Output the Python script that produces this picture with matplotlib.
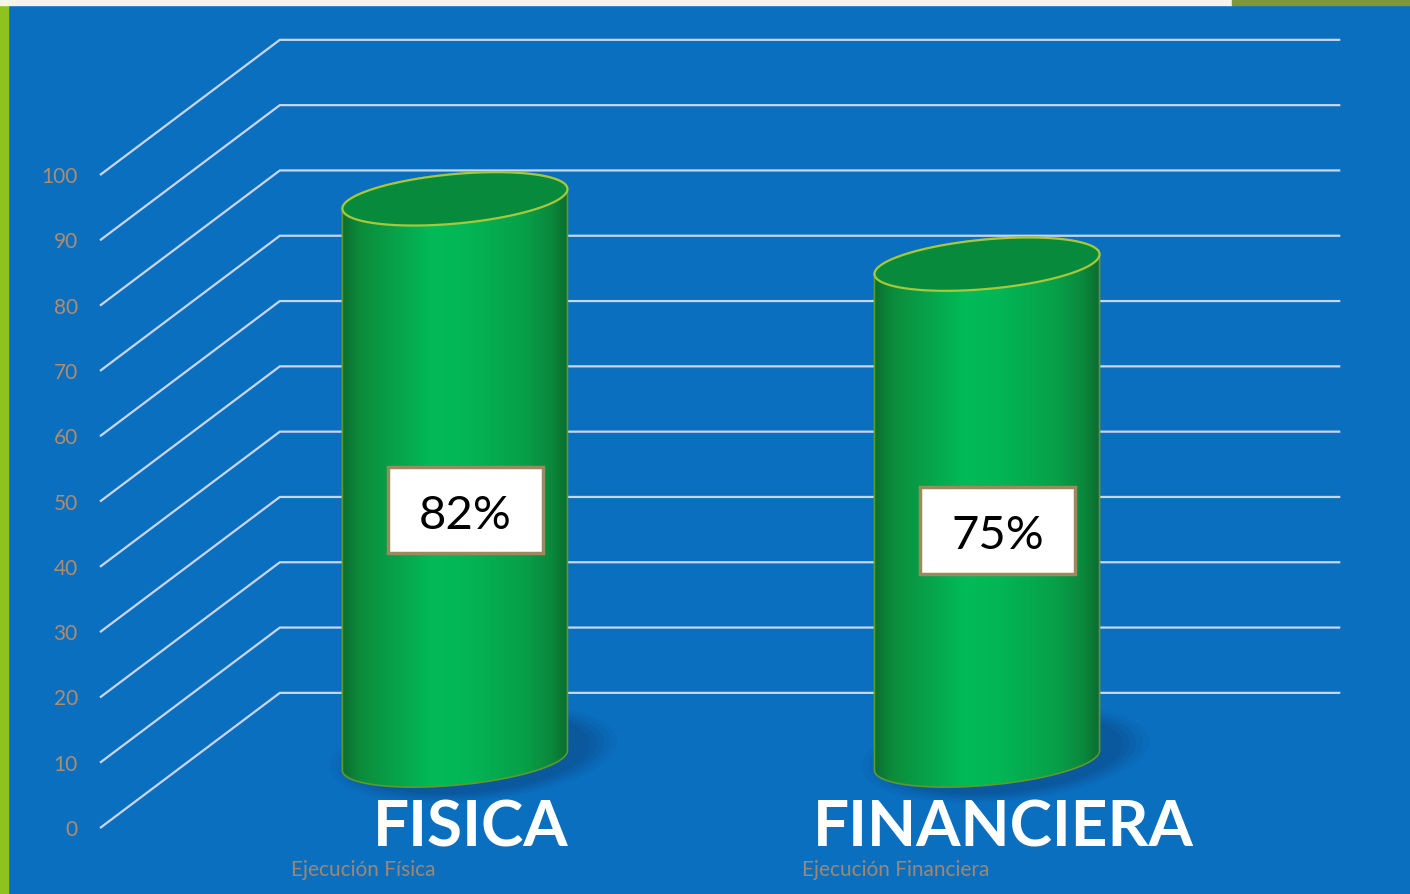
import numpy as np
import matplotlib.pyplot as plt
from matplotlib.patches import Polygon, Rectangle
from matplotlib.colors import LinearSegmentedColormap

plt.rcParams['font.family'] = ['Lato', 'DejaVu Sans']

# data
categories = ["FISICA", "FINANCIERA"]
subtitles = ["Ejecución Física", "Ejecución Financiera"]
heights = [86, 76]            # cylinder heights as drawn
value_labels = ["82%", "75%"]  # text typed in the boxes
ticks = list(range(0, 101, 10))

W, H = 1410, 894
BLUE = '#0B6FC0'
GRID = '#C9D6EA'
TAN = '#AE8C6E'

fig = plt.figure(figsize=(W / 100, H / 100), dpi=100)
fig.patch.set_facecolor(BLUE)
ax = fig.add_axes([100 / W, 0, 1 - 100 / W, 1])
ax.patch.set_visible(False)

# fake 3d: depth offset of the back wall
DX, DY = 0.338, 20.7
wall_end = 1.664
x_lo, x_hi = -0.667, 1.795
y_lo, y_hi = -10.1, 126.8

for v in ticks:
    ax.plot([x_lo, x_lo + DX, wall_end], [v, v + DY, v + DY], color=GRID,
            lw=1.6, zorder=1, clip_on=False, solid_capstyle='butt')

# cylinder shape
A, B, K = 0.2115, 3.8, 1.5

def ring(cx, cy, t, sx=1.0, sy=1.0):
    return cx + A * sx * np.cos(t), cy + B * sy * np.sin(t) + K * sx * np.cos(t)

body_cmap = LinearSegmentedColormap.from_list('body', [
    (0.0, '#0B6E30'), (0.08, '#0C8C3B'), (0.40, '#02BA58'),
    (0.55, '#03B655'), (0.80, '#07A148'), (0.93, '#0B883C'), (1.0, '#0A6C2F')])
grad = np.linspace(0, 1, 256).reshape(1, -1)

base = DY / 2
for i, h in enumerate(heights):
    top = base + h

    # soft shadow under the cylinder
    for s, a in [(1.28, 0.07), (1.22, 0.09), (1.16, 0.11), (1.10, 0.14), (1.04, 0.16)]:
        sx, sy = ring(i + 0.035, base + 1.0, np.linspace(0, 2 * np.pi, 120), s, s * 1.5)
        ax.add_patch(Polygon(np.column_stack([sx, sy]), closed=True,
                             fc='#0A3F78', ec='none', alpha=a, zorder=2))

    bx, by = ring(i, base, np.linspace(np.pi, 2 * np.pi, 120))
    tx, ty = ring(i, top, np.linspace(0, np.pi, 120))
    body = Polygon(np.column_stack([np.r_[bx, tx], np.r_[by, ty]]), closed=True,
                   fc='none', ec='#5E9A2A', lw=1.2, zorder=4)
    ax.add_patch(body)
    im = ax.imshow(grad, cmap=body_cmap, origin='lower', aspect='auto',
                   extent=[i - A, i + A, base - B - K - 1, top + B + K + 1],
                   interpolation='bicubic', zorder=3)
    im.set_clip_path(body)

    cx_, cy_ = ring(i, top, np.linspace(0, 2 * np.pi, 200))
    ax.add_patch(Polygon(np.column_stack([cx_, cy_]), closed=True,
                         fc='#088A3D', ec='#A6C83A', lw=1.6, zorder=5))

    # value box
    ly = 22.0 + 0.31 * h
    ax.add_patch(Rectangle((i + 0.02 - 0.145, ly - 6.6), 0.29, 13.2,
                           fc='white', ec='#9A8A5C', lw=2.5, zorder=6))
    ax.text(i + 0.02, ly - 2.8, value_labels[i], ha='center', va='baseline',
            fontsize=34, color='black', zorder=7)

    ax.text(i + 0.03, -2.8, categories[i], ha='center', va='baseline',
            fontsize=46, fontweight='bold', color='white', zorder=7)
    ax.text(i - 0.172, -7.4, subtitles[i], ha='center', va='baseline',
            fontsize=15, color='#9C8872', zorder=7)

ax.set_yticks(ticks)
ax.set_yticklabels([str(t) for t in ticks])
ax.tick_params(axis='y', length=0, pad=16, labelcolor=TAN, labelsize=15)
ax.set_xticks([])
for sp in ax.spines.values():
    sp.set_visible(False)
ax.set_xlim(x_lo, x_hi)
ax.set_ylim(y_lo, y_hi)

# slide frame bits
fig.add_artist(Rectangle((0, 0), 8 / W, 1, transform=fig.transFigure,
                         color='#8DC21F', zorder=10))
fig.add_artist(Rectangle((0, 1 - 5 / H), 1232 / W, 5 / H, transform=fig.transFigure,
                         color='#F2F5EA', zorder=10))
fig.add_artist(Rectangle((1232 / W, 1 - 5 / H), 1 - 1232 / W, 5 / H,
                         transform=fig.transFigure, color='#7A9A3A', zorder=10))

fig.savefig('out.png', dpi=100, facecolor=fig.get_facecolor())
